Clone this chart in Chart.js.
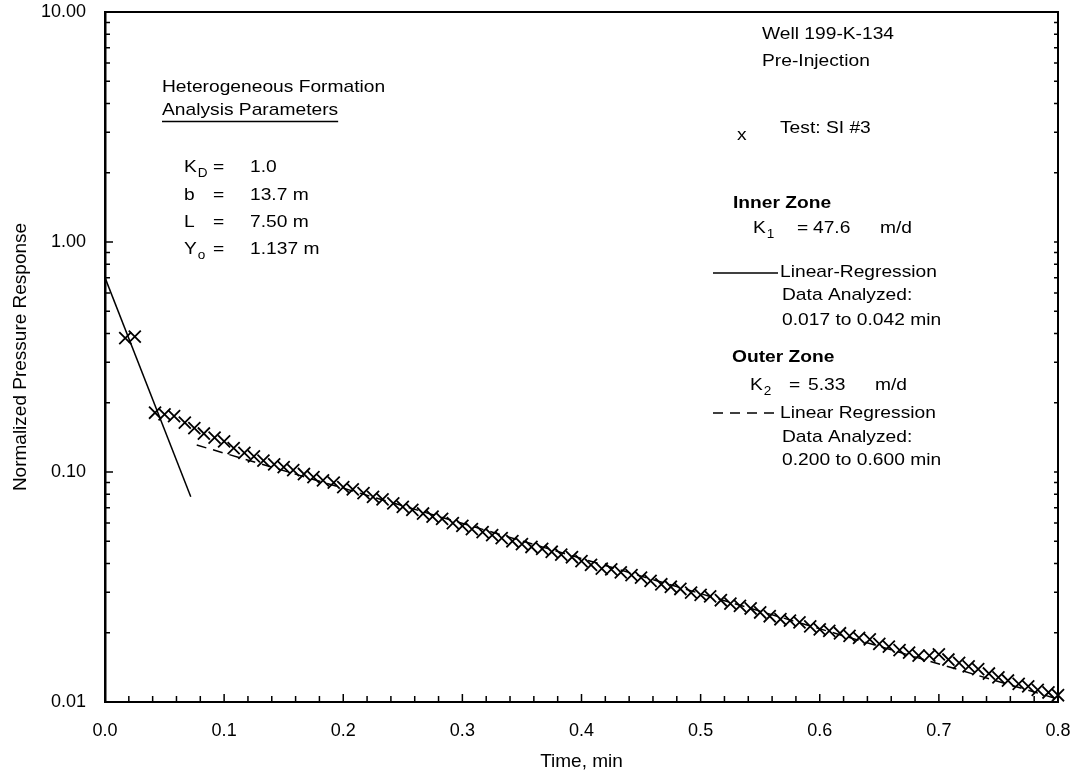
<!DOCTYPE html>
<html>
<head>
<meta charset="utf-8">
<title>Well 199-K-134 Pre-Injection</title>
<script src="https://cdn.jsdelivr.net/npm/chart.js@4/dist/chart.umd.min.js"></script>
<style>
  html, body { margin: 0; padding: 0; background: #fff; }
  canvas { display: block; }
</style>
</head>
<body>
<canvas id="chart" width="1081" height="777"></canvas>
<script>
// ---- data ----
const timeMin = [0.017, 0.025, 0.042, 0.050, 0.058, 0.067, 0.075, 0.083, 0.092, 0.100,
  0.108, 0.117, 0.125, 0.133, 0.142, 0.150, 0.158, 0.167, 0.175, 0.183, 0.192, 0.200,
  0.208, 0.217, 0.225, 0.233, 0.242, 0.250, 0.258, 0.267, 0.275, 0.283, 0.292, 0.300,
  0.308, 0.317, 0.325, 0.333, 0.342, 0.350, 0.358, 0.367, 0.375, 0.383, 0.392, 0.400,
  0.408, 0.417, 0.425, 0.433, 0.442, 0.450, 0.458, 0.467, 0.475, 0.483, 0.492, 0.500,
  0.508, 0.517, 0.525, 0.533, 0.542, 0.550, 0.558, 0.567, 0.575, 0.583, 0.592, 0.600,
  0.608, 0.617, 0.625, 0.633, 0.642, 0.650, 0.658, 0.667, 0.675, 0.683, 0.692, 0.700,
  0.708, 0.717, 0.725, 0.733, 0.742, 0.750, 0.758, 0.767, 0.775, 0.783, 0.792, 0.800];
const pressureResponse = [0.382, 0.388, 0.181, 0.178, 0.175, 0.164, 0.155, 0.147, 0.141, 0.136,
  0.127, 0.121, 0.117, 0.112, 0.108, 0.105, 0.102, 0.098, 0.095, 0.092, 0.090, 0.086,
  0.084, 0.081, 0.078, 0.076, 0.073, 0.0705, 0.0685, 0.066, 0.064, 0.0625, 0.060, 0.0583,
  0.0565, 0.0548, 0.0532, 0.0516, 0.0500, 0.0486, 0.0472, 0.0463, 0.0450, 0.0437, 0.0426, 0.0410,
  0.0395, 0.0380, 0.0377, 0.0366, 0.0356, 0.0347, 0.0336, 0.0325, 0.0317, 0.0310, 0.0299, 0.0292,
  0.0288, 0.0277, 0.0268, 0.0262, 0.0255, 0.0245, 0.0236, 0.0229, 0.0226, 0.0222, 0.0213, 0.0207,
  0.0204, 0.0199, 0.0194, 0.0190, 0.0187, 0.0179, 0.0174, 0.0168, 0.0164, 0.0159, 0.0159, 0.0161,
  0.0153, 0.0148, 0.0143, 0.0139, 0.0133, 0.0128, 0.0124, 0.0120, 0.0117, 0.0113, 0.0110, 0.0107];

// regression lines (end points)
const innerFitTime = [0.0, 0.072];
const innerFitResponse = [0.70, 0.078];
const outerFitTime = [0.077, 0.8];
const outerFitResponse = [0.131, 0.0103];

// axis labels
const xTickValues = [0, 0.1, 0.2, 0.3, 0.4, 0.5, 0.6, 0.7, 0.8];
const xTickLabels = ['0.0', '0.1', '0.2', '0.3', '0.4', '0.5', '0.6', '0.7', '0.8'];
const yTickValues = [0.01, 0.1, 1, 10];
const yTickLabels = ['0.01', '0.10', '1.00', '10.00'];

const FONT = '"Liberation Sans", Arial, Helvetica, sans-serif';
const STRETCH = 1.13;
const DASH = [10, 7];

// minor tick marks (every 0.02 min, 1..9 per decade)
const xMinorTicks = [];
for (let i = 0; i <= 40; i++) xMinorTicks.push(i / 50);
const yMinorTicks = [];
yTickValues.slice(0, -1).forEach(d => { for (let k = 1; k <= 9; k++) yMinorTicks.push(d * k); });
yMinorTicks.push(10);

// text in the plot area
const notes = [
  { x: 162, y: 92, text: 'Heterogeneous Formation' },
  { x: 162, y: 115, text: 'Analysis Parameters', underline: true },
  { x: 184, y: 172, text: 'K', sub: 'D' }, { x: 213, y: 172, text: '=' }, { x: 250, y: 172, text: '1.0' },
  { x: 184, y: 200, text: 'b' }, { x: 213, y: 200, text: '=' }, { x: 250, y: 200, text: '13.7 m' },
  { x: 184, y: 227, text: 'L' }, { x: 213, y: 227, text: '=' }, { x: 250, y: 227, text: '7.50 m' },
  { x: 184, y: 254, text: 'Y', sub: 'o' }, { x: 213, y: 254, text: '=' }, { x: 250, y: 254, text: '1.137 m' },
  { x: 762, y: 39, text: 'Well 199-K-134' },
  { x: 762, y: 66, text: 'Pre-Injection' },
  { x: 737, y: 140, text: 'x' },
  { x: 780, y: 133, text: 'Test: SI #3' },
  { x: 733, y: 208, text: 'Inner Zone', bold: true },
  { x: 753, y: 233, text: 'K', sub: '1' }, { x: 797, y: 233, text: '=' },
  { x: 813, y: 233, text: '47.6' }, { x: 880, y: 233, text: 'm/d' },
  { x: 780, y: 277, text: 'Linear-Regression' },
  { x: 782, y: 300, text: 'Data Analyzed:' },
  { x: 782, y: 325, text: '0.017 to 0.042 min' },
  { x: 732, y: 362, text: 'Outer Zone', bold: true },
  { x: 750, y: 390, text: 'K', sub: '2' }, { x: 789, y: 390, text: '=' },
  { x: 808, y: 390, text: '5.33' }, { x: 875, y: 390, text: 'm/d' },
  { x: 780, y: 418, text: 'Linear Regression' },
  { x: 782, y: 442, text: 'Data Analyzed:' },
  { x: 782, y: 465, text: '0.200 to 0.600 min' }
];
const keyLines = [
  { x1: 713, x2: 778, y: 273, dash: [] },
  { x1: 713, x2: 778, y: 413, dash: DASH }
];

function drawText(ctx, str, x, y, size, bold) {
  ctx.save();
  ctx.font = (bold ? 'bold ' : '') + size + 'px ' + FONT;
  ctx.translate(x, y);
  ctx.scale(STRETCH, 1);
  ctx.fillText(str, 0, 0);
  const w = ctx.measureText(str).width * STRETCH;
  ctx.restore();
  return w;
}

const framePlugin = {
  id: 'frame',
  afterDraw(chart) {
    const { ctx, chartArea: a, scales: { x, y } } = chart;
    ctx.save();
    ctx.strokeStyle = '#000';
    ctx.fillStyle = '#000';
    // top and right border
    ctx.lineWidth = 2;
    ctx.beginPath();
    ctx.moveTo(a.left, a.top);
    ctx.lineTo(a.right, a.top);
    ctx.lineTo(a.right, a.bottom);
    ctx.stroke();
    // inward tick marks
    ctx.lineWidth = 1.5;
    ctx.beginPath();
    xMinorTicks.forEach((v, i) => {
      const px = x.getPixelForValue(v);
      const len = i % 5 === 0 ? 8 : 6;
      ctx.moveTo(px, a.bottom);
      ctx.lineTo(px, a.bottom - len);
    });
    yMinorTicks.forEach(v => {
      const py = y.getPixelForValue(v);
      const len = yTickValues.includes(v) ? 8 : 5;
      ctx.moveTo(a.left, py);
      ctx.lineTo(a.left + len, py);
      ctx.moveTo(a.right, py);
      ctx.lineTo(a.right - 4, py);
    });
    ctx.stroke();
    // key line samples
    keyLines.forEach(k => {
      ctx.setLineDash(k.dash);
      ctx.beginPath();
      ctx.moveTo(k.x1, k.y);
      ctx.lineTo(k.x2, k.y);
      ctx.stroke();
    });
    ctx.setLineDash([]);
    // annotations
    ctx.textBaseline = 'alphabetic';
    ctx.textAlign = 'left';
    notes.forEach(n => {
      const w = drawText(ctx, n.text, n.x, n.y, 17, n.bold);
      if (n.sub) drawText(ctx, n.sub, n.x + w + 1, n.y + 5, 12, false);
      if (n.underline) {
        ctx.lineWidth = 1.5;
        ctx.beginPath();
        ctx.moveTo(n.x, n.y + 6.5);
        ctx.lineTo(n.x + w, n.y + 6.5);
        ctx.stroke();
      }
    });
    ctx.restore();
  }
};

new Chart(document.getElementById('chart'), {
  type: 'scatter',
  data: {
    datasets: [
      {
        label: 'Test: SI #3',
        data: timeMin.map((t, i) => ({ x: t, y: pressureResponse[i] })),
        pointStyle: 'crossRot',
        pointRadius: 8.5,
        pointBorderWidth: 1.8,
        borderColor: '#000',
        backgroundColor: '#000',
        showLine: false,
        clip: false
      },
      {
        label: 'Inner Zone Linear-Regression',
        data: innerFitTime.map((t, i) => ({ x: t, y: innerFitResponse[i] })),
        showLine: true,
        pointRadius: 0,
        borderColor: '#000',
        borderWidth: 1.5
      },
      {
        label: 'Outer Zone Linear Regression',
        data: outerFitTime.map((t, i) => ({ x: t, y: outerFitResponse[i] })),
        showLine: true,
        pointRadius: 0,
        borderColor: '#000',
        borderWidth: 1.5,
        borderDash: DASH
      }
    ]
  },
  options: {
    responsive: false,
    animation: false,
    devicePixelRatio: 1,
    layout: { padding: { top: 12, right: 23, left: 0, bottom: 0 } },
    plugins: { legend: { display: false }, tooltip: { enabled: false } },
    scales: {
      x: {
        type: 'linear',
        min: 0,
        max: 0.8,
        afterBuildTicks: s => { s.ticks = xTickValues.map(v => ({ value: v })); },
        afterFit: s => { s.height = 75; s.paddingLeft = 0; s.paddingRight = 0; },
        grid: { display: false, drawTicks: false },
        border: { display: true, color: '#000', width: 2 },
        ticks: {
          autoSkip: false, maxRotation: 0, padding: 18, color: '#000',
          font: { family: FONT, size: 18 },
          callback: (v, i) => xTickLabels[i]
        },
        title: {
          display: true, text: 'Time, min', color: '#000',
          font: { family: FONT, size: 19 }, padding: { top: 0, bottom: 4 }
        }
      },
      y: {
        type: 'logarithmic',
        min: 0.01,
        max: 10,
        afterBuildTicks: s => { s.ticks = yTickValues.map(v => ({ value: v })); },
        afterFit: s => { s.width = 105; s.paddingTop = 0; s.paddingBottom = 0; },
        grid: { display: false, drawTicks: false },
        border: { display: true, color: '#000', width: 2.5 },
        ticks: {
          autoSkip: false, padding: 19, color: '#000',
          font: { family: FONT, size: 18 },
          callback: (v, i) => yTickLabels[i]
        },
        title: {
          display: true, text: 'Normalized Pressure Response', color: '#000',
          font: { family: FONT, size: 19 }, padding: { top: 9, bottom: 0 }
        }
      }
    }
  },
  plugins: [framePlugin]
});
</script>
</body>
</html>
